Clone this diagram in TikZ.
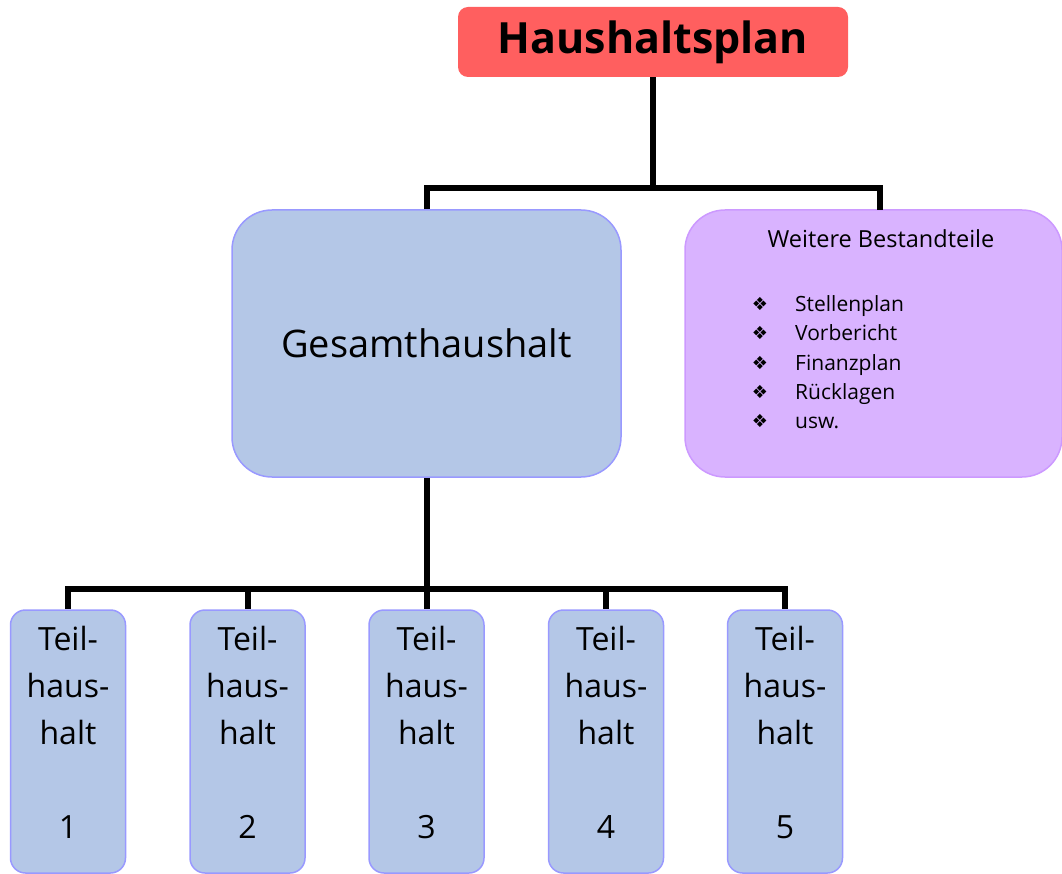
\documentclass[tikz,border=0pt]{standalone}
\usepackage{fontspec}
\setmainfont{Open Sans}
\newfontfamily\symfont{DejaVu Sans}
\usepackage{tikz}
\usetikzlibrary{positioning}

\definecolor{plancol}{HTML}{FF5F5F}
\definecolor{gesfill}{HTML}{B4C7E7}
\definecolor{gesdraw}{HTML}{9999FF}
\definecolor{weitfill}{HTML}{D9B3FF}
\definecolor{weitdraw}{HTML}{CC99FF}

\begin{document}
\begin{tikzpicture}[x=1pt, y=-1pt,
                    planbox/.style={rectangle, rounded corners=10pt, fill=plancol, minimum width=390pt, minimum height=70pt, inner sep=0pt, font=\fontsize{43}{50}\selectfont\bfseries},
                    gesbox/.style={rectangle, rounded corners=40pt, fill=gesfill, draw=gesdraw, line width=1.5pt, minimum width=389pt, minimum height=267pt, inner sep=0pt, font=\fontsize{38}{44}\selectfont},
                    weitbox/.style={rectangle, rounded corners=40pt, fill=weitfill, draw=weitdraw, line width=1.5pt, minimum width=377pt, minimum height=267pt, inner sep=0pt},
                    teilbox/.style={rectangle, rounded corners=15pt, fill=gesfill, draw=gesdraw, line width=1.5pt, minimum width=115pt, minimum height=263pt, inner sep=0pt},
                    teiltext/.style={anchor=base, align=center, inner sep=0pt, font=\fontsize{32}{47}\selectfont},
                    conn/.style={line width=6pt}
                   ]
\useasboundingbox (0,0) rectangle (1062,874);
%Nodes
\node[planbox] (plan) at (653,42)      {Haushaltsplan};
\node[gesbox]  (ges)  at (426.5,343.5) {Gesamthaushalt};
\node[weitbox] (weit) at (873.5,343.5) {};
\node[anchor=base, inner sep=0pt, font=\fontsize{23.5}{28}\selectfont] (weittitle) at (881,248) {Weitere Bestandteile};
\foreach \j/\item in {0/Stellenplan,1/Vorbericht,2/Finanzplan,3/Rücklagen,4/usw.}{
  \node[anchor=base, inner sep=0pt, font=\symfont\fontsize{18}{20}\selectfont] (bul\j) at (760,311+29*\j) {❖};
  \node[anchor=base west, inner sep=0pt, font=\fontsize{21}{25}\selectfont] (item\j) at (795,312+29*\j) {\item};
}
\foreach \i/\x in {1/68,2/247.5,3/426.5,4/606,5/785}{
  \node[teilbox] (t\i) at (\x,741.5) {};
  \node[teiltext] (tl\i) at (\x,838) {Teil-\\haus-\\halt\\[47pt]\i};
}
\coordinate (top) at (653,188);
\coordinate (wr)  at (880,210);
\coordinate (bot) at (426.5,588.5);
% %Lines
\draw[conn] (plan.south) -- (top);
\draw[conn] (ges.north) |- (top) -| (wr);
\draw[conn] (ges.south) -- (bot);
\foreach \i in {1,...,5}
  \draw[conn] (bot) -| (t\i.north);
\end{tikzpicture}
\end{document}
